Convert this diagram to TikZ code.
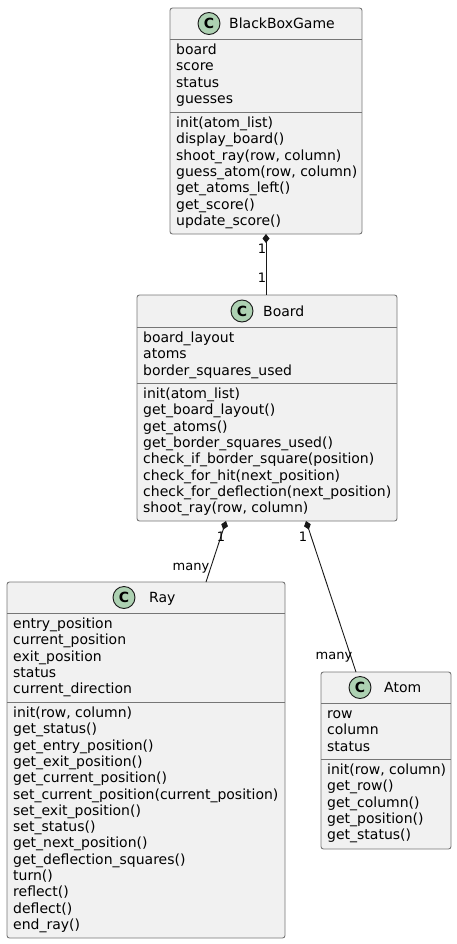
\documentclass[tikz,border=0pt]{standalone}
\usepackage{fontspec}
\setmainfont{DejaVu Sans}
\usetikzlibrary{arrows.meta,calc}
\definecolor{umlfill}{HTML}{F1F1F1}
\definecolor{umlline}{HTML}{181818}
\definecolor{umlborder}{RGB}{118,118,118}
\definecolor{cbadge}{HTML}{ADD1B2}

\begin{document}
\begin{tikzpicture}[x=1pt, y=-1pt,
  classbox/.style={draw=umlborder, fill=umlfill, line width=0.9pt, rounded corners=2.5pt,
              inner sep=0pt, outer sep=0pt},
  sepline/.style={draw=umlborder, line width=0.9pt},
  badge/.style={circle, draw=umlline, fill=cbadge, line width=0.9pt, minimum size=22pt,
              inner sep=0pt, font=\fontsize{14}{16}\selectfont\bfseries},
  title/.style={anchor=base west, inner sep=0pt, font=\fontsize{14}{16.3}\selectfont},
  member/.style={anchor=base west, inner sep=0pt, font=\fontsize{14}{16.3}\selectfont},
  mult/.style={anchor=base, inner sep=0pt, font=\fontsize{13}{15}\selectfont},
  compose/.style={arrows={Diamond[length=9pt, width=7pt]-}, line width=0.9pt, draw=umlline},
]
\useasboundingbox (0,0) rectangle (457,944);

% BlackBoxGame
\node[classbox, minimum width=192pt, minimum height=226pt] (game) at (266,121) {};
\draw[sepline] ($(game.north west)+(0,31)$) -- ($(game.north east)+(0,31)$);
\draw[sepline] ($(game.north west)+(0,104)$) -- ($(game.north east)+(0,104)$);
\node[badge] (game-c) at (209,23.5) {C};
\node[title] (game-t) at (229,28.6) {BlackBoxGame};
\foreach \txt [count=\i] in {{board}, {score}, {status}, {guesses}}
  \node[member] (game-a\i) at (176,{54.5+16.3*(\i-1)}) {\txt};
\foreach \txt [count=\i] in {{init(atom\_list)}, {display\_board()}, {shoot\_ray(row, column)},
    {guess\_atom(row, column)}, {get\_atoms\_left()}, {get\_score()}, {update\_score()}}
  \node[member] (game-m\i) at (176,{127.5+16.3*(\i-1)}) {\txt};

% Board
\node[classbox, minimum width=260pt, minimum height=226pt] (board) at (267,408) {};
\draw[sepline] ($(board.north west)+(0,32)$) -- ($(board.north east)+(0,32)$);
\draw[sepline] ($(board.north west)+(0,88)$) -- ($(board.north east)+(0,88)$);
\node[badge] (board-c) at (242,311) {C};
\node[title] (board-t) at (263,316.1) {Board};
\foreach \txt [count=\i] in {{board\_layout}, {atoms}, {border\_squares\_used}}
  \node[member] (board-a\i) at (143,{342.5+16.3*(\i-1)}) {\txt};
\foreach \txt [count=\i] in {{init(atom\_list)}, {get\_board\_layout()}, {get\_atoms()},
    {get\_border\_squares\_used()}, {check\_if\_border\_square(position)},
    {check\_for\_hit(next\_position)}, {check\_for\_deflection(next\_position)},
    {shoot\_ray(row, column)}}
  \node[member] (board-m\i) at (143,{398.5+16.3*(\i-1)}) {\txt};

% Ray
\node[classbox, minimum width=278pt, minimum height=356pt] (ray) at (146,760) {};
\draw[sepline] ($(ray.north west)+(0,31)$) -- ($(ray.north east)+(0,31)$);
\draw[sepline] ($(ray.north west)+(0,120)$) -- ($(ray.north east)+(0,120)$);
\node[badge] (ray-c) at (124,597.5) {C};
\node[title] (ray-t) at (149,602.6) {Ray};
\foreach \txt [count=\i] in {{entry\_position}, {current\_position}, {exit\_position},
    {status}, {current\_direction}}
  \node[member] (ray-a\i) at (13,{628.5+16.3*(\i-1)}) {\txt};
\foreach \txt [count=\i] in {{init(row, column)}, {get\_status()}, {get\_entry\_position()},
    {get\_exit\_position()}, {get\_current\_position()},
    {set\_current\_position(current\_position)}, {set\_exit\_position()}, {set\_status()},
    {get\_next\_position()}, {get\_deflection\_squares()}, {turn()}, {reflect()},
    {deflect()}, {end\_ray()}}
  \node[member] (ray-m\i) at (13,{717.5+16.3*(\i-1)}) {\txt};

% Atom
\node[classbox, minimum width=130pt, minimum height=177pt] (atom) at (386,760.5) {};
\draw[sepline] ($(atom.north west)+(0,31)$) -- ($(atom.north east)+(0,31)$);
\draw[sepline] ($(atom.north west)+(0,87)$) -- ($(atom.north east)+(0,87)$);
\node[badge] (atom-c) at (360,687.5) {C};
\node[title] (atom-t) at (384,692.6) {Atom};
\foreach \txt [count=\i] in {{row}, {column}, {status}}
  \node[member] (atom-a\i) at (327,{718.5+16.3*(\i-1)}) {\txt};
\foreach \txt [count=\i] in {{init(row, column)}, {get\_row()}, {get\_column()},
    {get\_position()}, {get\_status()}}
  \node[member] (atom-m\i) at (327,{774.5+16.3*(\i-1)}) {\txt};

% Compositions
\draw[compose] (game.south) -- (game.south |- board.north);
\draw[compose] ($(board.south west)+(89,0)$) -- ($(ray.north west)+(199,0)$);
\draw[compose] ($(board.south west)+(169,0)$) -- ($(atom.north west)+(35,0)$);

% Multiplicities
\node[mult] (game-one) at (262,253.7) {1};
\node[mult] (board-one) at (262,282.7) {1};
\node[mult] (ray-one) at (221,541.7) {1};
\node[mult] (ray-many) at (191,570.5) {many};
\node[mult] (atom-one) at (303,541.7) {1};
\node[mult] (atom-many) at (334,659.5) {many};

\end{tikzpicture}
\end{document}
